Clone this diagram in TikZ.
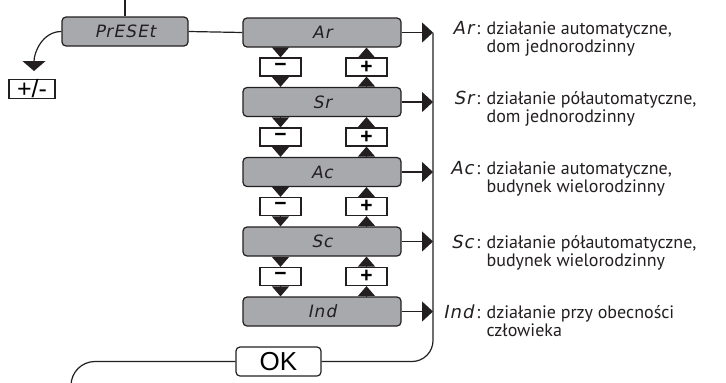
\documentclass[tikz,border=0pt]{standalone}
\usepackage{fontspec}
\setmainfont{PT Sans}
\newfontfamily\segfont[FakeSlant=0.2,LetterSpace=6]{DejaVu Sans}
\newfontfamily\okfont{Liberation Sans}
\usetikzlibrary{arrows.meta}
\definecolor{lcdgray}{HTML}{A7A9AC}
\definecolor{inkdark}{HTML}{231F20}

\tikzset{
  lcd/.style={draw=inkdark, fill=lcdgray, rounded corners=4pt, minimum width=158pt, minimum height=29pt, inner sep=0pt, font=\segfont\fontsize{17}{17}\selectfont, text=inkdark},
  keybox/.style={draw=inkdark, fill=white, minimum width=41pt, minimum height=18pt, inner sep=0pt, font=\okfont\bfseries\fontsize{21}{21}\selectfont},
  tri/.style={-{Triangle[width=17pt,length=10pt]}},
  rtri/.style={-{Triangle[width=20pt,length=11pt]}},
  desc/.style={anchor=base west, align=left, inner sep=0pt, text=inkdark, font=\fontsize{18}{18}\selectfont},
  code/.style={anchor=base east, inner sep=0pt, text=inkdark, font=\fontsize{18}{18}\selectfont},
}

\begin{document}
\begin{tikzpicture}[x=1pt,y=-1pt,line width=1.2pt,draw=inkdark]
	\useasboundingbox (0,0) rectangle (726,383);

	% PRESET MENU
	\node[lcd, minimum width=126pt] (preset) at (125,31.5) {PrESEt};
	\coordinate (top) at (125,-5);
	\draw (preset.north) -- (top);
	\node[keybox, minimum width=46pt, minimum height=19pt, font=\okfont\fontsize{25}{25}\selectfont] (pm) at (32,89) {+/-};
	\coordinate (pmtip) at (34,71);
	\draw[-{Triangle[width=23pt,length=10pt]}] (preset.west) to[out=180,in=90] (pmtip);

	% MODES
	\node[lcd] (ar) at (322,32.5) {Ar};
	\node[lcd] (sr) at (322,102) {Sr};
	\node[lcd] (ac) at (322,172) {Ac};
	\node[lcd] (sc) at (322,241.5) {Sc};
	\node[lcd] (ind) at (322,311.5) {Ind};
	\draw (preset.east) -- (ar.west);

	% MINUS / PLUS KEYS
	\foreach \a/\b/\y [count=\i] in {ar/sr/67, sr/ac/137, ac/sc/206.5, sc/ind/276.5} {
		\node[keybox] (m\i) at (280.5,\y) {−};
		\node[keybox] (p\i) at (366.5,\y) {+};
		\draw[tri] (\a.south -| m\i) -- (m\i.north);
		\draw[tri] (m\i.south) -- (\b.north -| m\i);
		\draw[tri] (p\i.north) -- (\a.south -| p\i);
		\draw[tri] (\b.north -| p\i) -- (p\i.south);
	}

	% RAIL AND OK
	\coordinate (rail) at (433,0);
	\foreach \n in {ar,sr,ac,sc,ind} {
		\draw[rtri] (\n.east) -- (\n.east -| rail);
	}
	\node[draw=inkdark, fill=white, rounded corners=4pt, minimum width=85pt, minimum height=29pt, inner sep=0pt, font=\okfont\fontsize{26}{26}\selectfont] (ok) at (278.5,361.5) {OK};
	\draw[rounded corners=21pt] (ar.east -| rail) |- (ok.east);
	\coordinate (back) at (71,400);
	\draw[rounded corners=24pt] (ok.west) -| (back);

	% DESCRIPTIONS (desc nodes sit on their second baseline)
	\node[code] (arcode) at (481,34) {{\segfont Ar}\,:};
	\node[desc] (ardesc) at (486,52) {działanie automatyczne,\\dom jednorodzinny};
	\node[code] (srcode) at (481,104) {{\segfont Sr}\,:};
	\node[desc] (srdesc) at (486,122) {działanie półautomatyczne,\\dom jednorodzinny};
	\node[code] (accode) at (481,174) {{\segfont Ac}\,:};
	\node[desc] (acdesc) at (486,192) {działanie automatyczne,\\budynek wielorodzinny};
	\node[code] (sccode) at (481,248) {{\segfont Sc}\,:};
	\node[desc] (scdesc) at (486,266) {działanie półautomatyczne,\\budynek wielorodzinny};
	\node[code] (indcode) at (481,318) {{\segfont Ind}\,:};
	\node[desc] (inddesc) at (486,336) {działanie przy obecności\\człowieka};
\end{tikzpicture}
\end{document}
